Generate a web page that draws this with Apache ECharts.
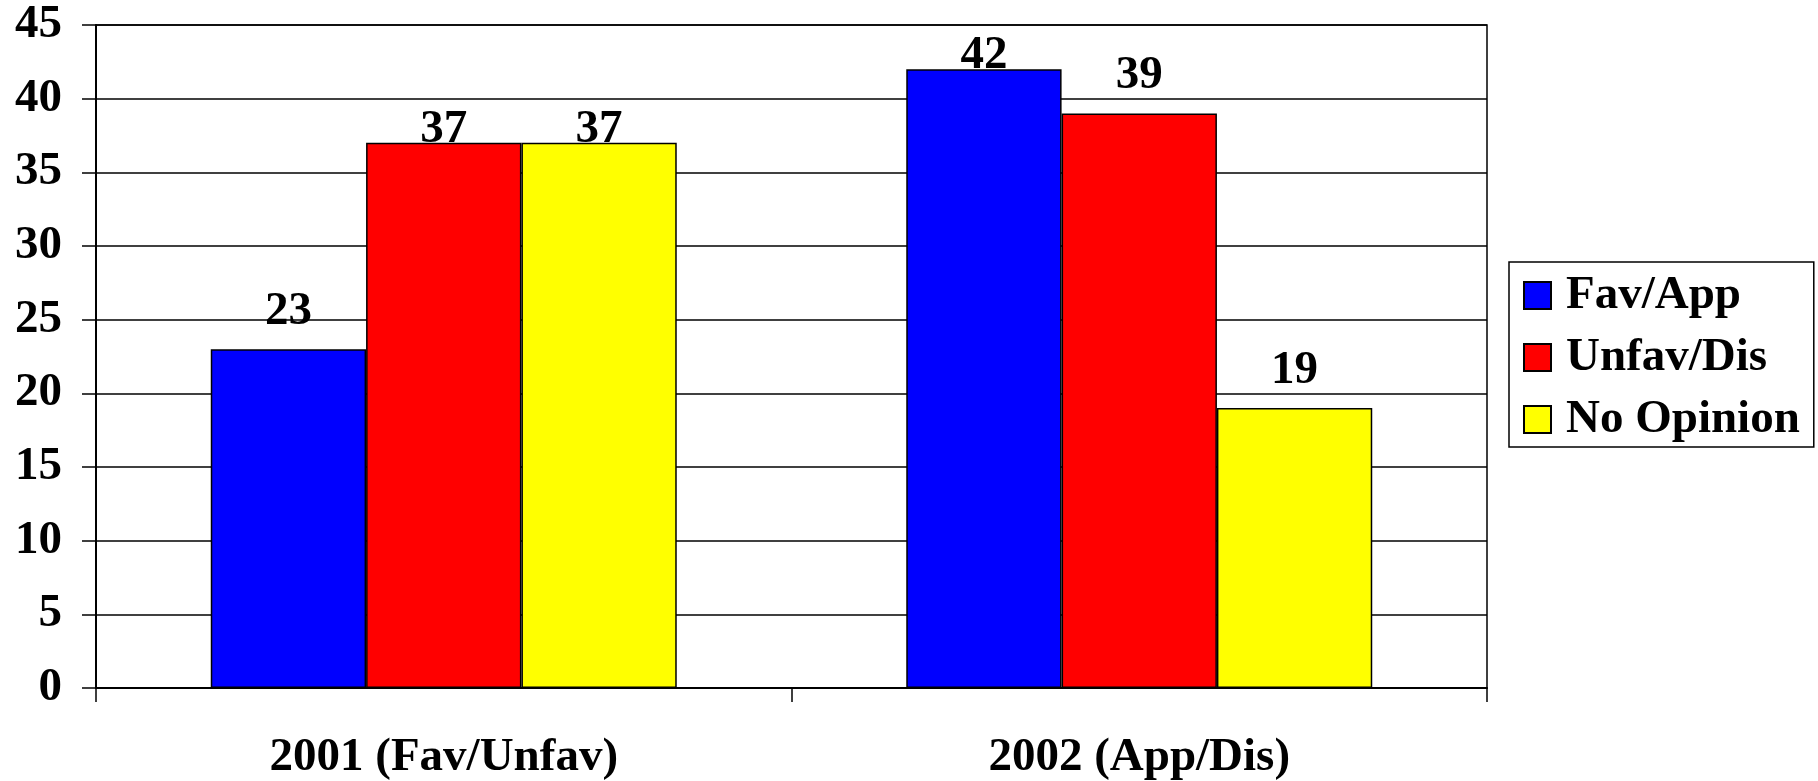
<!DOCTYPE html>
<html>
<head>
<meta charset="utf-8">
<script src="https://cdn.jsdelivr.net/npm/echarts@6/dist/echarts.min.js"></script>
<style>
    html, body { margin: 0; padding: 0; background: #fff; overflow: hidden; }
    #chart { width: 1818px; height: 781px; }
</style>
</head>
<body>
<div id="chart"></div>
<script>
    // data
    var categories = ['2001 (Fav/Unfav)', '2002 (App/Dis)'];
    var seriesNames = ['Fav/App', 'Unfav/Dis', 'No Opinion'];
    var favApp = [23, 42];
    var unfavDis = [37, 39];
    var noOpinion = [37, 19];
    var yTicks = [0, 5, 10, 15, 20, 25, 30, 35, 40, 45];

    var colors = ['#0000ff', '#ff0000', '#ffff00'];
    // how far each value label sits above its bar (Excel nudged some down)
    var labelGap = [[14, -10], [-10, 14], [-10, 14]];

    var font = 'Liberation Serif, Times New Roman, serif';
    var fontSize = 47;
    var chart = echarts.init(document.getElementById('chart'));

    function makeSeries(name, values, idx) {
        return {
            name: name,
            type: 'bar',
            barGap: '0%',
            barCategoryGap: '33%',
            itemStyle: { color: colors[idx], borderColor: '#000', borderWidth: 1.5 },
            data: values.map(function (v, i) {
                return {
                    value: v,
                    label: { distance: labelGap[idx][i] }
                };
            }),
            label: {
                show: true,
                position: 'top',
                color: '#000',
                fontFamily: font,
                fontWeight: 'bold',
                fontSize: fontSize
            }
        };
    }

    chart.setOption({
        animation: false,
        textStyle: { fontFamily: font },
        grid: {
            left: 96,
            right: 331,
            top: 25,
            bottom: 93,
            containLabel: false,
            outerBoundsMode: 'none',
            show: true,
            borderColor: '#000',
            borderWidth: 1.5
        },
        legend: {
            orient: 'vertical',
            left: 1509,
            top: 262,
            data: seriesNames,
            icon: 'rect',
            itemWidth: 27,
            itemHeight: 27,
            itemGap: 15,
            padding: [10, 14, 4, 14],
            borderColor: '#000',
            borderWidth: 1.5,
            textStyle: {
                color: '#000',
                fontFamily: font,
                fontWeight: 'bold',
                fontSize: fontSize,
                padding: [0, 0, 0, 10]
            }
        },
        xAxis: {
            type: 'category',
            data: categories,
            axisLine: { lineStyle: { color: '#000', width: 2 } },
            axisTick: { show: true, length: 14, lineStyle: { color: '#000', width: 1.5 } },
            axisLabel: {
                color: '#000',
                fontFamily: font,
                fontWeight: 'bold',
                fontSize: fontSize,
                margin: 46
            }
        },
        yAxis: {
            type: 'value',
            min: yTicks[0],
            max: yTicks[yTicks.length - 1],
            interval: 5,
            axisLine: { show: true, lineStyle: { color: '#000', width: 2 } },
            axisTick: { show: true, length: 14, lineStyle: { color: '#000', width: 1.5 } },
            splitLine: { lineStyle: { color: '#000', width: 1.5 } },
            axisLabel: {
                color: '#000',
                fontFamily: font,
                fontWeight: 'bold',
                fontSize: fontSize,
                margin: 34
            }
        },
        series: [
            makeSeries(seriesNames[0], favApp, 0),
            makeSeries(seriesNames[1], unfavDis, 1),
            makeSeries(seriesNames[2], noOpinion, 2)
        ]
    });
</script>
</body>
</html>
